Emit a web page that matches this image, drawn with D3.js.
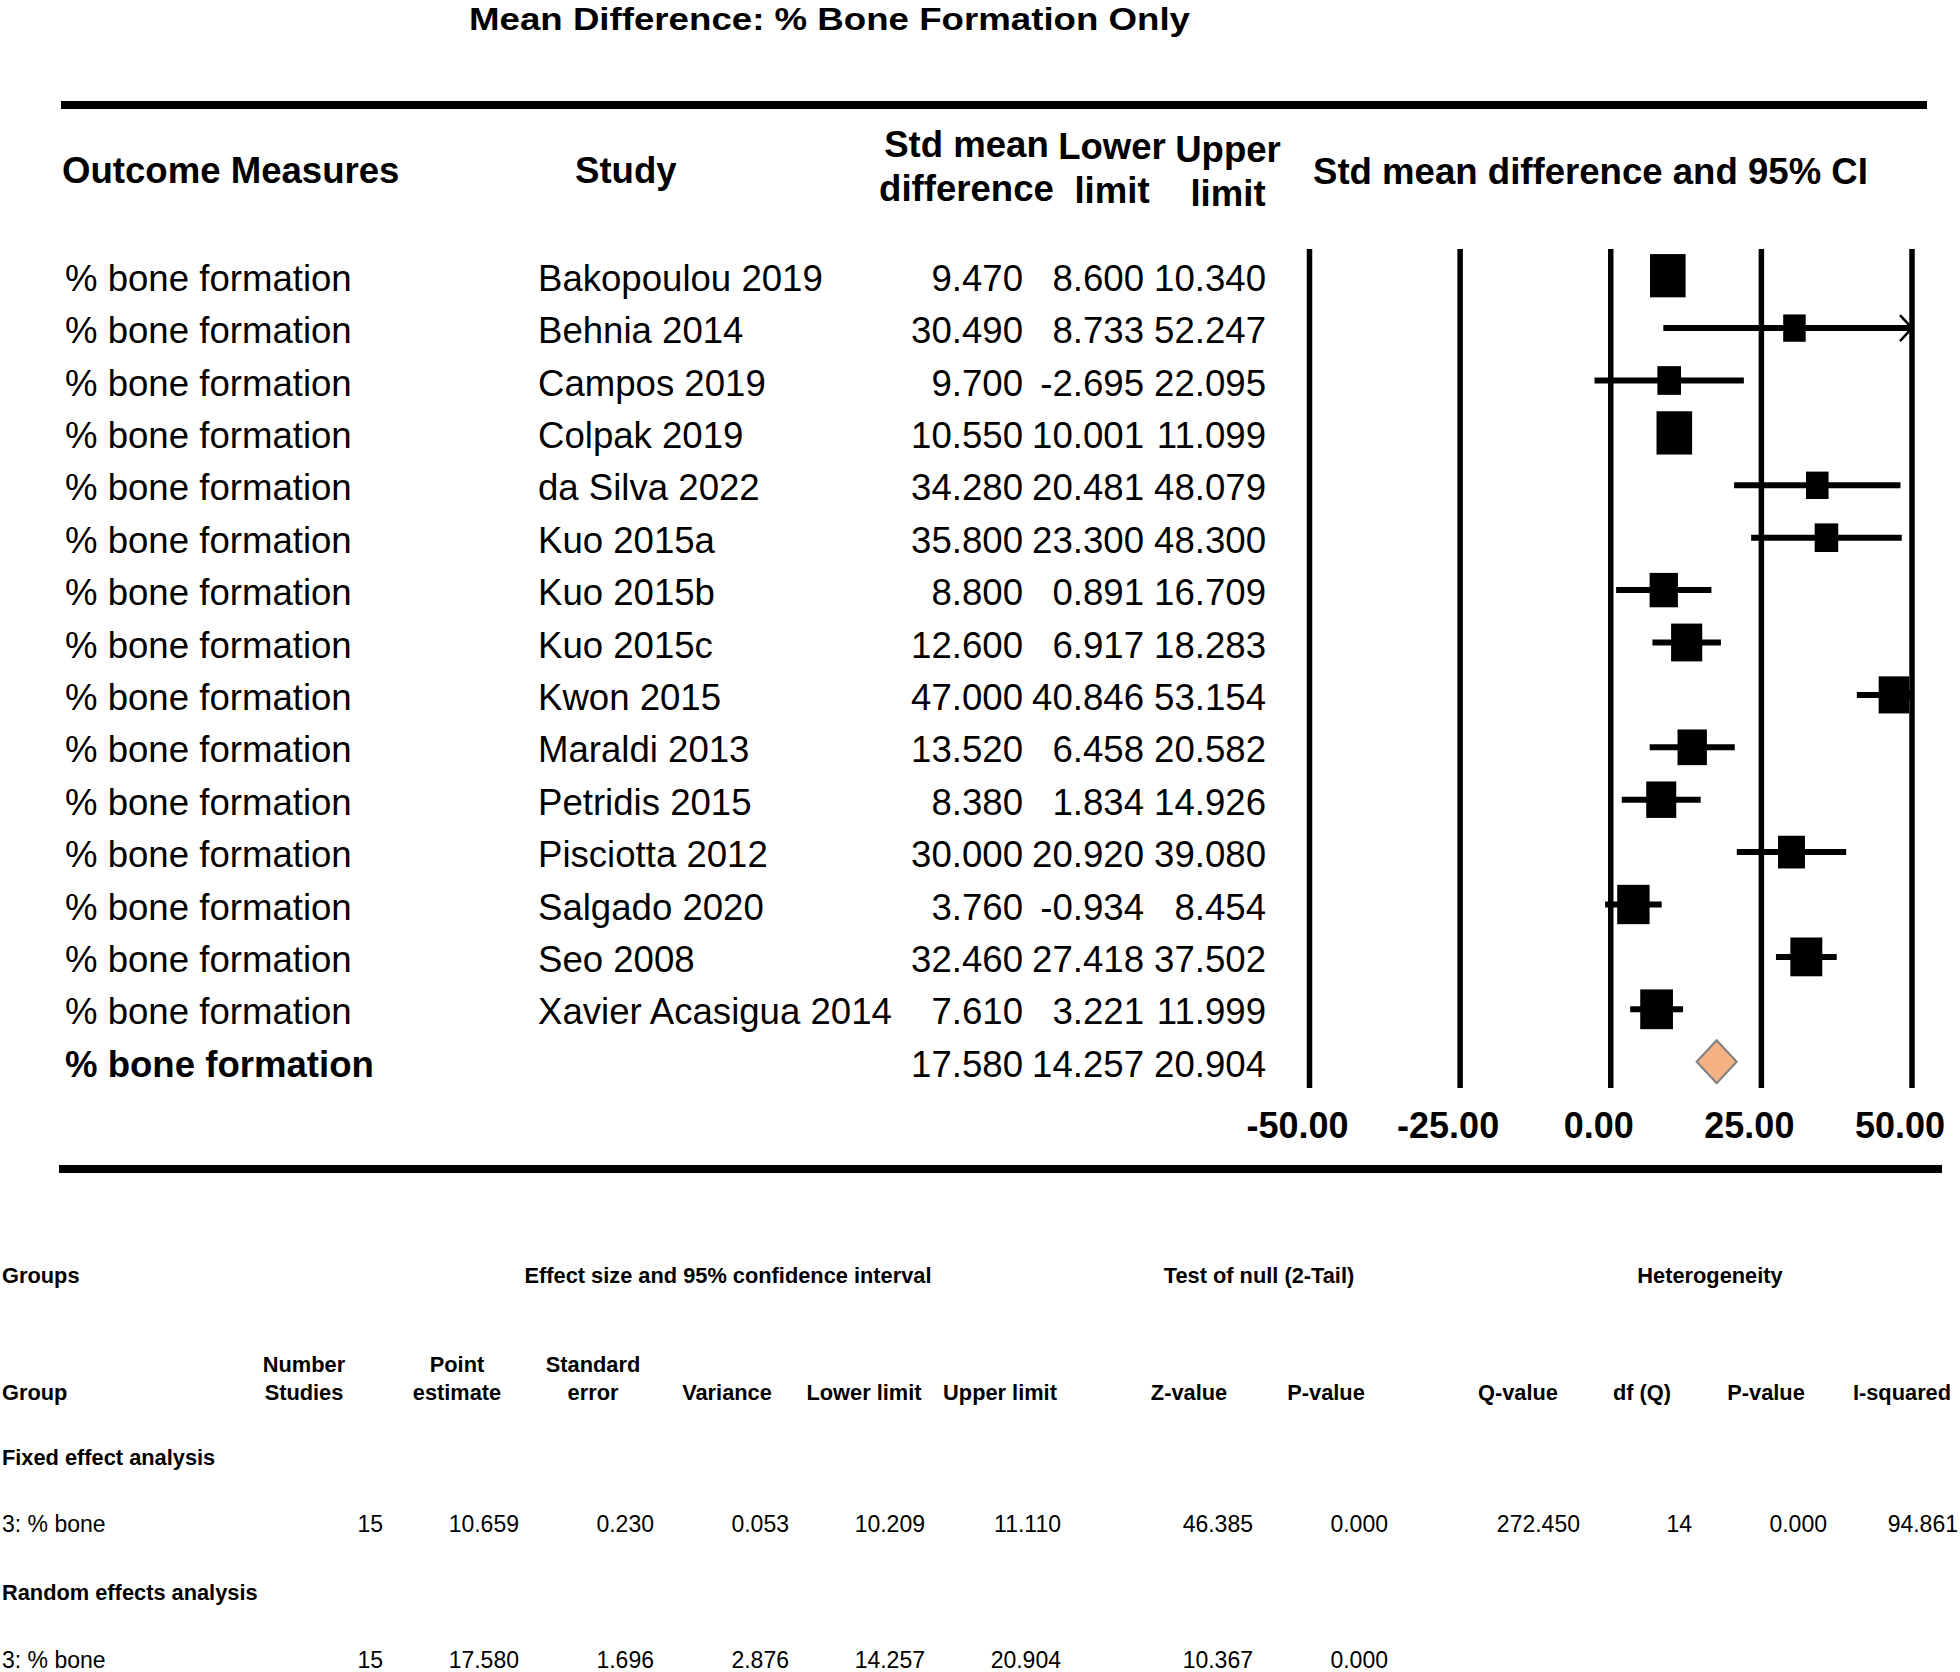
<!DOCTYPE html>
<html><head><meta charset="utf-8">
<script src="https://cdn.jsdelivr.net/npm/d3@7"></script>
<style>
html,body{margin:0;padding:0;background:#fff;}
svg{display:block;font-family:"Liberation Sans",Arial,Helvetica,sans-serif;}
</style></head><body>
<svg id="chart" width="1960" height="1672"></svg>
<script>
// ---------------- data ----------------
const title = "Mean Difference: % Bone Formation Only";
const outcomes = ["% bone formation","% bone formation","% bone formation","% bone formation","% bone formation",
  "% bone formation","% bone formation","% bone formation","% bone formation","% bone formation",
  "% bone formation","% bone formation","% bone formation","% bone formation","% bone formation"];
const studies = ["Bakopoulou 2019","Behnia 2014","Campos 2019","Colpak 2019","da Silva 2022","Kuo 2015a","Kuo 2015b",
  "Kuo 2015c","Kwon 2015","Maraldi 2013","Petridis 2015","Pisciotta 2012","Salgado 2020","Seo 2008","Xavier Acasigua 2014"];
const smd   = [9.470,30.490,9.700,10.550,34.280,35.800,8.800,12.600,47.000,13.520,8.380,30.000,3.760,32.460,7.610];
const lower = [8.600,8.733,-2.695,10.001,20.481,23.300,0.891,6.917,40.846,6.458,1.834,20.920,-0.934,27.418,3.221];
const upper = [10.340,52.247,22.095,11.099,48.079,48.300,16.709,18.283,53.154,20.582,14.926,39.080,8.454,37.502,11.999];
// relative (random-effects) weights, %
const relWeight = [9.81,1.93,4.23,9.85,3.72,4.19,6.40,7.72,7.43,6.90,7.20,5.76,8.29,8.09,8.46];
const summaryLabel = "% bone formation";
const summaryEst = 17.580, summaryLower = 14.257, summaryUpper = 20.904;
const xTicks = [-50,-25,0,25,50];
const xDomain = [-50,50];

const headOutcome = "Outcome Measures";
const headStudy = "Study";
const headStats = [["Std mean","difference"],["Lower","limit"],["Upper","limit"]];
const headPlot = "Std mean difference and 95% CI";

const groupHeaders = ["Groups","Effect size and 95% confidence interval","Test of null (2-Tail)","Heterogeneity"];
const colHeaders = [["","Group"],["Number","Studies"],["Point","estimate"],["Standard","error"],["","Variance"],
  ["","Lower limit"],["","Upper limit"],["","Z-value"],["","P-value"],["","Q-value"],["","df (Q)"],["","P-value"],["","I-squared"]];
const analyses = ["Fixed effect analysis","Random effects analysis"];
const groupLabel = "3: % bone";
const fixedRow  = [15,10.659,0.230,0.053,10.209,11.110,46.385,0.000,272.450,14,0.000,94.861];
const randomRow = [15,17.580,1.696,2.876,14.257,20.904,10.367,0.000];
const integerCols = [0,9];

// ---------------- drawing ----------------
const svg = d3.select("#chart");
const fmt3 = v => d3.format(".3f")(v).replace("\u2212","-");
const fmt2 = v => d3.format(".2f")(v).replace("\u2212","-");

const x = d3.scaleLinear().domain(xDomain).range([1309.5,1912]);
const y = d3.scaleLinear().domain([0,15]).range([275.7,1061.7]);
const boxW = d3.scaleLinear().domain([3.7,9.8]).range([22.5,35.6]).clamp(true);

const FS = 36.6;

// title
svg.append("text").attr("x",469).attr("y",30).attr("font-size",32).attr("font-weight","bold")
  .attr("textLength",721).attr("lengthAdjust","spacingAndGlyphs").text(title);

// rules
svg.append("rect").attr("x",61).attr("y",101).attr("width",1866).attr("height",8).attr("fill","#000");
svg.append("rect").attr("x",59).attr("y",1165).attr("width",1883).attr("height",8).attr("fill","#000");

// headers
const hb = svg.append("g").attr("font-weight","bold").attr("font-size",FS);
hb.append("text").attr("x",62).attr("y",183).text(headOutcome);
hb.append("text").attr("x",575).attr("y",183).text(headStudy);
const statCx = [966.5,1112,1228];
const statY1 = [157,159,162], statY2 = [201,203,206];
headStats.forEach((h,i)=>{
  hb.append("text").attr("x",statCx[i]).attr("y",statY1[i]).attr("text-anchor","middle").text(h[0]);
  hb.append("text").attr("x",statCx[i]).attr("y",statY2[i]).attr("text-anchor","middle").text(h[1]);
});
hb.append("text").attr("x",1313).attr("y",184).text(headPlot);

// study rows text
const rowsG = svg.append("g").attr("font-size",FS);
const numRight = [1023,1144,1266];
studies.forEach((s,i)=>{
  const by = y(i)+15;
  rowsG.append("text").attr("x",65).attr("y",by).text(outcomes[i]);
  rowsG.append("text").attr("x",538).attr("y",by).text(s);
  [smd[i],lower[i],upper[i]].forEach((v,j)=>{
    rowsG.append("text").attr("x",numRight[j]).attr("y",by).attr("text-anchor","end").text(fmt3(v));
  });
});
// summary row text
const sy = y(15)+15;
rowsG.append("text").attr("x",65).attr("y",sy).attr("font-weight","bold").text(summaryLabel);
[summaryEst,summaryLower,summaryUpper].forEach((v,j)=>{
  rowsG.append("text").attr("x",numRight[j]).attr("y",sy).attr("text-anchor","end").text(fmt3(v));
});

// grid lines
svg.append("g").selectAll("line").data(xTicks).join("line")
  .attr("x1",d=>x(d)).attr("x2",d=>x(d)).attr("y1",249).attr("y2",1088)
  .attr("stroke","#000").attr("stroke-width",5.5);

// tick labels
svg.append("g").attr("font-size",36).attr("font-weight","bold").selectAll("text").data(xTicks).join("text")
  .attr("x",d=>x(d)-12).attr("y",1137.5).attr("text-anchor","middle").text(d=>fmt2(d));

// CI lines + arrows + boxes
const plotG = svg.append("g");
studies.forEach((s,i)=>{
  const cy = y(i);
  const lo = Math.max(lower[i],xDomain[0]), hi = Math.min(upper[i],xDomain[1]);
  plotG.append("line").attr("x1",x(lo)).attr("x2",x(hi)).attr("y1",cy).attr("y2",cy)
    .attr("stroke","#000").attr("stroke-width",6);
  if (upper[i] > xDomain[1]) {
    const ax = x(xDomain[1]);
    plotG.append("polyline").attr("points",`${ax-12},${cy-13} ${ax},${cy} ${ax-12},${cy+13}`)
      .attr("fill","none").attr("stroke","#000").attr("stroke-width",2.5);
  }
  if (lower[i] < xDomain[0]) {
    const ax = x(xDomain[0]);
    plotG.append("polyline").attr("points",`${ax+12},${cy-13} ${ax},${cy} ${ax+12},${cy+13}`)
      .attr("fill","none").attr("stroke","#000").attr("stroke-width",2.5);
  }
});
studies.forEach((s,i)=>{
  const w = boxW(relWeight[i]), h = w*1.215;
  plotG.append("rect").attr("x",x(smd[i])-w/2).attr("y",y(i)-h/2).attr("width",w).attr("height",h).attr("fill","#000");
});
// summary diamond
const dy = y(15);
plotG.append("path")
  .attr("d",`M${x(summaryLower)},${dy} L${x(summaryEst)},${dy-21.5} L${x(summaryUpper)},${dy} L${x(summaryEst)},${dy+21.5} Z`)
  .attr("fill","#F4B183").attr("stroke","#808080").attr("stroke-width",2);

// ---------------- bottom table ----------------
const tb = svg.append("g");
const bold = 21.8, reg = 23;
const groupHeadPos = [{x:2,a:"start"},{x:728,a:"middle"},{x:1259,a:"middle"},{x:1710,a:"middle"}];
groupHeaders.forEach((t,i)=>{
  tb.append("text").attr("x",groupHeadPos[i].x).attr("y",1283).attr("text-anchor",groupHeadPos[i].a)
    .attr("font-weight","bold").attr("font-size",bold).text(t);
});
const colCx = [2,304,457,593,727,864,1000,1189,1326,1518,1642,1766,1902];
colHeaders.forEach((h,i)=>{
  const anchor = i===0 ? "start" : "middle";
  if (h[0]) tb.append("text").attr("x",colCx[i]).attr("y",1371.5).attr("text-anchor",anchor)
    .attr("font-weight","bold").attr("font-size",bold).text(h[0]);
  tb.append("text").attr("x",colCx[i]).attr("y",1399.5).attr("text-anchor",anchor)
    .attr("font-weight","bold").attr("font-size",bold).text(h[1]);
});
const analysisY = [1465,1599.5];
const valueY = [1532,1668];
const valRight = [383,519,654,789,925,1061,1253,1388,1580,1692,1827,1958];
[fixedRow,randomRow].forEach((row,k)=>{
  tb.append("text").attr("x",2).attr("y",analysisY[k]).attr("font-weight","bold").attr("font-size",bold).text(analyses[k]);
  tb.append("text").attr("x",2).attr("y",valueY[k]).attr("font-size",reg).text(groupLabel);
  row.forEach((v,j)=>{
    tb.append("text").attr("x",valRight[j]).attr("y",valueY[k]).attr("text-anchor","end").attr("font-size",reg)
      .text(integerCols.includes(j) ? d3.format("d")(v) : fmt3(v));
  });
});
</script>
</body></html>
